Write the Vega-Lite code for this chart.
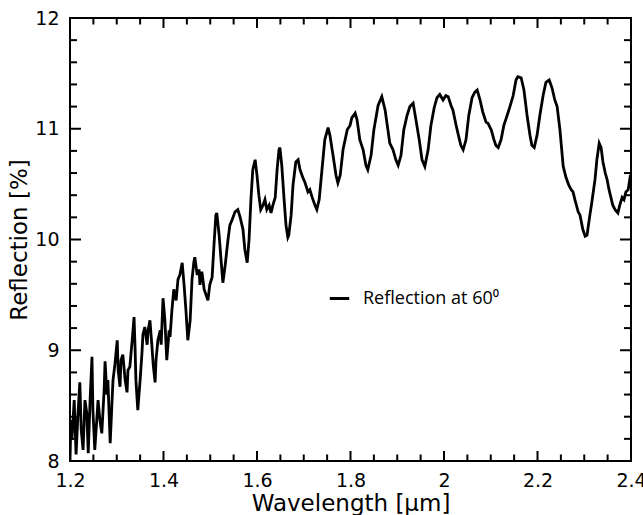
{
  "$schema": "https://vega.github.io/schema/vega-lite/v6.json",
  "width": 561,
  "height": 443,
  "autosize": {"type": "none"},
  "padding": {"left": 70, "top": 18, "right": 12, "bottom": 54},
  "config": {
    "font": "DejaVu Sans",
    "view": {"stroke": "black", "strokeWidth": 2},
    "axis": {"grid": false, "domain": false, "ticks": false, "labelColor": "black", "titleColor": "black", "labelFlush": false, "labelOverlap": false}
  },
  "datasets": {
    "spectrum": [
    {"w":1.200,"r":8.00},{"w":1.202,"r":8.37},{"w":1.204,"r":8.19},{"w":1.209,"r":8.55},{"w":1.213,"r":8.06},{"w":1.217,"r":8.42},{"w":1.221,"r":8.71},{"w":1.224,"r":8.28},{"w":1.228,"r":8.10},{"w":1.232,"r":8.55},{"w":1.236,"r":8.43},{"w":1.239,"r":8.07},{"w":1.243,"r":8.55},{"w":1.247,"r":8.94},{"w":1.249,"r":8.46},{"w":1.253,"r":8.10},{"w":1.258,"r":8.42},{"w":1.260,"r":8.55},{"w":1.264,"r":8.37},{"w":1.268,"r":8.25},{"w":1.273,"r":8.64},{"w":1.275,"r":8.90},{"w":1.279,"r":8.60},{"w":1.281,"r":8.73},{"w":1.286,"r":8.16},{"w":1.290,"r":8.55},{"w":1.292,"r":8.73},{"w":1.296,"r":8.87},{"w":1.301,"r":9.09},{"w":1.303,"r":8.82},{"w":1.307,"r":8.67},{"w":1.309,"r":8.91},{"w":1.313,"r":8.96},{"w":1.318,"r":8.73},{"w":1.322,"r":8.62},{"w":1.324,"r":8.82},{"w":1.328,"r":8.85},{"w":1.333,"r":9.09},{"w":1.337,"r":9.30},{"w":1.339,"r":9.05},{"w":1.341,"r":8.73},{"w":1.345,"r":8.46},{"w":1.350,"r":8.73},{"w":1.354,"r":8.98},{"w":1.356,"r":9.14},{"w":1.360,"r":9.21},{"w":1.365,"r":9.05},{"w":1.367,"r":9.18},{"w":1.371,"r":9.27},{"w":1.375,"r":9.05},{"w":1.378,"r":8.87},{"w":1.382,"r":8.71},{"w":1.384,"r":8.91},{"w":1.388,"r":9.09},{"w":1.393,"r":9.18},{"w":1.395,"r":9.05},{"w":1.399,"r":9.47},{"w":1.403,"r":9.27},{"w":1.407,"r":8.91},{"w":1.412,"r":9.18},{"w":1.414,"r":9.12},{"w":1.418,"r":9.36},
    {"w":1.422,"r":9.55},{"w":1.427,"r":9.45},{"w":1.431,"r":9.64},{"w":1.435,"r":9.68},{"w":1.440,"r":9.79},{"w":1.444,"r":9.59},{"w":1.448,"r":9.36},{"w":1.452,"r":9.09},{"w":1.457,"r":9.27},{"w":1.461,"r":9.64},{"w":1.465,"r":9.80},{"w":1.467,"r":9.84},{"w":1.472,"r":9.68},{"w":1.476,"r":9.73},{"w":1.478,"r":9.59},{"w":1.482,"r":9.71},{"w":1.487,"r":9.55},{"w":1.491,"r":9.50},{"w":1.495,"r":9.45},{"w":1.499,"r":9.59},{"w":1.504,"r":9.66},{"w":1.508,"r":9.95},{"w":1.512,"r":10.22},{"w":1.514,"r":10.24},{"w":1.519,"r":10.04},{"w":1.523,"r":9.82},{"w":1.527,"r":9.61},{"w":1.532,"r":9.77},{"w":1.538,"r":10.00},{"w":1.542,"r":10.13},{"w":1.547,"r":10.18},{"w":1.553,"r":10.25},{"w":1.559,"r":10.27},{"w":1.564,"r":10.20},{"w":1.570,"r":10.09},{"w":1.574,"r":9.91},{"w":1.579,"r":9.79},{"w":1.583,"r":10.00},{"w":1.587,"r":10.36},{"w":1.591,"r":10.63},{"w":1.596,"r":10.72},{"w":1.600,"r":10.58},{"w":1.604,"r":10.40},{"w":1.608,"r":10.27},{"w":1.613,"r":10.31},{"w":1.617,"r":10.36},{"w":1.621,"r":10.27},{"w":1.626,"r":10.31},{"w":1.630,"r":10.24},{"w":1.634,"r":10.31},{"w":1.639,"r":10.38},{"w":1.643,"r":10.63},{"w":1.647,"r":10.81},{"w":1.649,"r":10.83},{"w":1.653,"r":10.67},{"w":1.658,"r":10.36},{"w":1.662,"r":10.13},{"w":1.666,"r":10.02},{"w":1.668,"r":10.04},
    {"w":1.673,"r":10.22},{"w":1.677,"r":10.49},{"w":1.683,"r":10.70},{"w":1.688,"r":10.72},{"w":1.692,"r":10.63},{"w":1.698,"r":10.56},{"w":1.703,"r":10.51},{"w":1.709,"r":10.43},{"w":1.713,"r":10.45},{"w":1.718,"r":10.38},{"w":1.724,"r":10.31},{"w":1.728,"r":10.27},{"w":1.733,"r":10.36},{"w":1.739,"r":10.63},{"w":1.745,"r":10.90},{"w":1.752,"r":11.01},{"w":1.756,"r":10.94},{"w":1.763,"r":10.75},{"w":1.769,"r":10.58},{"w":1.773,"r":10.51},{"w":1.778,"r":10.58},{"w":1.784,"r":10.81},{"w":1.793,"r":10.99},{"w":1.799,"r":11.03},{"w":1.803,"r":11.10},{"w":1.810,"r":11.14},{"w":1.814,"r":11.08},{"w":1.820,"r":10.90},{"w":1.827,"r":10.81},{"w":1.833,"r":10.67},{"w":1.837,"r":10.63},{"w":1.844,"r":10.76},{"w":1.850,"r":10.99},{"w":1.859,"r":11.21},{"w":1.867,"r":11.29},{"w":1.874,"r":11.17},{"w":1.880,"r":10.99},{"w":1.884,"r":10.87},{"w":1.891,"r":10.81},{"w":1.897,"r":10.72},{"w":1.902,"r":10.67},{"w":1.908,"r":10.76},{"w":1.914,"r":10.99},{"w":1.921,"r":11.12},{"w":1.927,"r":11.20},{"w":1.934,"r":11.23},
    {"w":1.940,"r":11.08},{"w":1.947,"r":10.90},{"w":1.953,"r":10.72},{"w":1.959,"r":10.66},{"w":1.966,"r":10.81},{"w":1.972,"r":11.03},{"w":1.979,"r":11.19},{"w":1.985,"r":11.28},{"w":1.991,"r":11.31},{"w":1.998,"r":11.26},{"w":2.004,"r":11.30},{"w":2.009,"r":11.29},{"w":2.015,"r":11.21},{"w":2.019,"r":11.17},{"w":2.026,"r":11.03},{"w":2.032,"r":10.92},{"w":2.036,"r":10.85},{"w":2.041,"r":10.81},{"w":2.047,"r":10.90},{"w":2.053,"r":11.12},{"w":2.060,"r":11.28},{"w":2.066,"r":11.33},{"w":2.071,"r":11.35},{"w":2.077,"r":11.26},{"w":2.083,"r":11.15},{"w":2.090,"r":11.06},{"w":2.094,"r":11.05},{"w":2.101,"r":10.99},{"w":2.107,"r":10.90},{"w":2.111,"r":10.85},{"w":2.116,"r":10.83},{"w":2.122,"r":10.90},{"w":2.128,"r":11.03},{"w":2.135,"r":11.12},{"w":2.141,"r":11.20},{"w":2.148,"r":11.30},{"w":2.154,"r":11.44},{"w":2.158,"r":11.47},{"w":2.165,"r":11.46},{"w":2.171,"r":11.35},{"w":2.178,"r":11.11},{"w":2.184,"r":10.94},{"w":2.188,"r":10.85},{"w":2.193,"r":10.83},
    {"w":2.199,"r":10.94},{"w":2.205,"r":11.12},{"w":2.212,"r":11.30},{"w":2.218,"r":11.42},{"w":2.225,"r":11.44},{"w":2.231,"r":11.37},{"w":2.237,"r":11.26},{"w":2.242,"r":11.20},{"w":2.248,"r":10.99},{"w":2.255,"r":10.66},{"w":2.261,"r":10.56},{"w":2.267,"r":10.49},{"w":2.272,"r":10.45},{"w":2.276,"r":10.43},{"w":2.280,"r":10.36},{"w":2.287,"r":10.25},{"w":2.291,"r":10.22},{"w":2.297,"r":10.09},{"w":2.302,"r":10.03},{"w":2.306,"r":10.04},{"w":2.312,"r":10.22},{"w":2.316,"r":10.33},{"w":2.323,"r":10.54},{"w":2.327,"r":10.72},{"w":2.332,"r":10.87},{"w":2.336,"r":10.83},{"w":2.340,"r":10.70},{"w":2.345,"r":10.60},{"w":2.349,"r":10.54},{"w":2.353,"r":10.45},{"w":2.357,"r":10.38},{"w":2.361,"r":10.31},{"w":2.366,"r":10.27},{"w":2.372,"r":10.24},{"w":2.376,"r":10.31},{"w":2.381,"r":10.38},{"w":2.385,"r":10.36},{"w":2.389,"r":10.43},{"w":2.394,"r":10.45},{"w":2.398,"r":10.56},{"w":2.400,"r":10.55}
    ],
    "xmajor": [{"t":1.2},{"t":1.4},{"t":1.6},{"t":1.8},{"t":2.0},{"t":2.2},{"t":2.4}],
    "xminor": [{"t":1.25},{"t":1.3},{"t":1.35},{"t":1.45},{"t":1.5},{"t":1.55},{"t":1.65},{"t":1.7},{"t":1.75},{"t":1.85},{"t":1.9},{"t":1.95},{"t":2.05},{"t":2.1},{"t":2.15},{"t":2.25},{"t":2.3},{"t":2.35}],
    "ymajor": [{"t":8},{"t":9},{"t":10},{"t":11},{"t":12}],
    "yminor": [{"t":8.2},{"t":8.4},{"t":8.6},{"t":8.8},{"t":9.2},{"t":9.4},{"t":9.6},{"t":9.8},{"t":10.2},{"t":10.4},{"t":10.6},{"t":10.8},{"t":11.2},{"t":11.4},{"t":11.6},{"t":11.8}]
  },
  "resolve": {"axis": {"x": "independent", "y": "independent"}},
  "layer": [
    {
      "data": {"name": "spectrum"},
      "mark": {"type": "line", "strokeWidth": 2.8, "clip": true},
      "encoding": {
        "x": {"field": "w", "type": "quantitative", "scale": {"domain": [1.2, 2.4], "nice": false, "zero": false},
          "axis": {"orient": "bottom", "values": [1.2, 1.4, 1.6, 1.8, 2.0, 2.2, 2.4], "labelPadding": 10, "labelFontSize": 19, "format": "~g", "title": "Wavelength [µm]", "titleFontSize": 23, "titleFontWeight": "normal", "titlePadding": 2}},
        "y": {"field": "r", "type": "quantitative", "scale": {"domain": [8, 12], "nice": false, "zero": false},
          "axis": {"orient": "left", "values": [8, 9, 10, 11, 12], "format": "~g", "labelPadding": 11, "labelFontSize": 19, "title": "Reflection [%]", "titleFontSize": 23, "titleFontWeight": "normal", "titlePadding": 3}},
        "color": {"datum": "Reflection at  60⁰", "type": "nominal", "scale": {"range": ["black"]},
          "legend": {"title": null, "orient": "none", "legendX": 258, "legendY": 269, "labelFontSize": 18, "labelFont": "Open Sans", "labelColor": "black", "symbolType": "stroke", "symbolStrokeWidth": 3, "symbolSize": 380, "labelOffset": 12}}
      }
    },
    {
      "data": {"name": "xmajor"},
      "mark": {"type": "tick", "orient": "vertical", "size": 20, "thickness": 2, "color": "black", "opacity": 1, "clip": true},
      "encoding": {
        "x": {"field": "t", "type": "quantitative", "axis": null},
        "y": {"datum": 8, "type": "quantitative", "axis": null}
      }
    },
    {
      "data": {"name": "xmajor"},
      "mark": {"type": "tick", "orient": "vertical", "size": 20, "thickness": 2, "color": "black", "opacity": 1, "clip": true},
      "encoding": {
        "x": {"field": "t", "type": "quantitative", "axis": null},
        "y": {"datum": 12, "type": "quantitative", "axis": null}
      }
    },
    {
      "data": {"name": "xminor"},
      "mark": {"type": "tick", "orient": "vertical", "size": 13, "thickness": 2, "color": "black", "opacity": 1, "clip": true},
      "encoding": {
        "x": {"field": "t", "type": "quantitative", "axis": null},
        "y": {"datum": 8, "type": "quantitative", "axis": null}
      }
    },
    {
      "data": {"name": "xminor"},
      "mark": {"type": "tick", "orient": "vertical", "size": 13, "thickness": 2, "color": "black", "opacity": 1, "clip": true},
      "encoding": {
        "x": {"field": "t", "type": "quantitative", "axis": null},
        "y": {"datum": 12, "type": "quantitative", "axis": null}
      }
    },
    {
      "data": {"name": "ymajor"},
      "mark": {"type": "tick", "orient": "horizontal", "size": 22, "thickness": 2, "color": "black", "opacity": 1, "clip": true},
      "encoding": {
        "y": {"field": "t", "type": "quantitative", "axis": null},
        "x": {"datum": 1.2, "type": "quantitative", "axis": null}
      }
    },
    {
      "data": {"name": "ymajor"},
      "mark": {"type": "tick", "orient": "horizontal", "size": 22, "thickness": 2, "color": "black", "opacity": 1, "clip": true},
      "encoding": {
        "y": {"field": "t", "type": "quantitative", "axis": null},
        "x": {"datum": 2.4, "type": "quantitative", "axis": null}
      }
    },
    {
      "data": {"name": "yminor"},
      "mark": {"type": "tick", "orient": "horizontal", "size": 14, "thickness": 2, "color": "black", "opacity": 1, "clip": true},
      "encoding": {
        "y": {"field": "t", "type": "quantitative", "axis": null},
        "x": {"datum": 1.2, "type": "quantitative", "axis": null}
      }
    },
    {
      "data": {"name": "yminor"},
      "mark": {"type": "tick", "orient": "horizontal", "size": 14, "thickness": 2, "color": "black", "opacity": 1, "clip": true},
      "encoding": {
        "y": {"field": "t", "type": "quantitative", "axis": null},
        "x": {"datum": 2.4, "type": "quantitative", "axis": null}
      }
    }
  ]
}
